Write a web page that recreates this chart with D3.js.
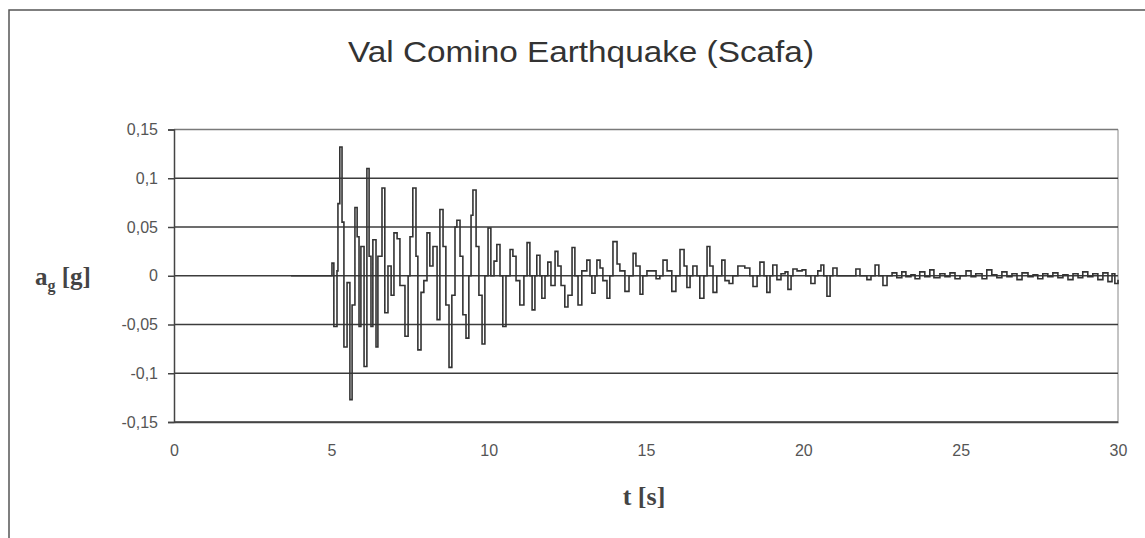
<!DOCTYPE html>
<html>
<head>
<meta charset="utf-8">
<script src="https://cdn.jsdelivr.net/npm/d3@7"></script>
<style>
  body { margin: 0; background: #fff; }
  .tick text { font-family: 'Liberation Sans', Arial, sans-serif; fill: #555; }
</style>
</head>
<body>
<div class="chart"></div>
<script>
var times = [3.72, 4.96, 5.02, 5.08, 5.18, 5.21, 5.27, 5.34, 5.40, 5.50, 5.59, 5.66, 5.75, 5.82, 5.88, 5.94,
  6.04, 6.13, 6.20, 6.26, 6.32, 6.42, 6.48, 6.61, 6.70, 6.80, 6.90, 6.99, 7.09, 7.18, 7.34, 7.44, 7.50,
  7.59, 7.69, 7.75, 7.85, 7.94, 8.04, 8.13, 8.23, 8.36, 8.45, 8.55, 8.64, 8.74, 8.83, 8.93, 8.99, 9.09,
  9.18, 9.28, 9.37, 9.44, 9.50, 9.60, 9.69, 9.79, 9.88, 9.98, 10.07, 10.17, 10.26, 10.36, 10.45, 10.55,
  10.68, 10.77, 10.87, 10.99, 11.12, 11.22, 11.31, 11.38, 11.47, 11.53, 11.63, 11.69, 11.79, 11.88, 11.98,
  12.11, 12.20, 12.30, 12.42, 12.52, 12.65, 12.74, 12.84, 12.96, 13.12, 13.22, 13.28, 13.38, 13.44, 13.54,
  13.63, 13.76, 13.85, 13.95, 14.08, 14.17, 14.33, 14.46, 14.59, 14.68, 14.81, 14.90, 15.03, 15.19, 15.32,
  15.44, 15.54, 15.67, 15.82, 15.95, 16.08, 16.21, 16.30, 16.40, 16.49, 16.62, 16.71, 16.84, 16.94, 17.03,
  17.13, 17.25, 17.41, 17.51, 17.64, 17.76, 17.92, 18.14, 18.30, 18.40, 18.53, 18.62, 18.75, 18.84, 18.94,
  19.03, 19.16, 19.29, 19.42, 19.51, 19.61, 19.67, 19.80, 19.96, 20.08, 20.24, 20.37, 20.46, 20.56, 20.65,
  20.75, 20.85, 20.94, 21.07, 21.32, 21.54, 21.67, 21.80, 22.02, 22.15, 22.28, 22.40, 22.53, 22.66, 22.82,
  22.97, 23.13, 23.26, 23.42, 23.55, 23.70, 23.86, 24.02, 24.15, 24.34, 24.50, 24.66, 24.82, 24.98, 25.17,
  25.33, 25.48, 25.68, 25.83, 25.99, 26.15, 26.31, 26.47, 26.63, 26.79, 26.95, 27.14, 27.30, 27.45, 27.61,
  27.77, 27.93, 28.09, 28.25, 28.41, 28.57, 28.73, 28.88, 29.04, 29.20, 29.36, 29.52, 29.68, 29.81, 29.90, 30.00];

var accel = [0, 0, 0.013, -0.052, 0.005, 0.074, 0.132, 0.055, -0.073, -0.007, -0.127, -0.03, 0.07, 0.04, -0.052, 0.03,
  -0.093, 0.11, 0.02, -0.052, 0.037, -0.073, 0.02, 0.09, -0.038, 0.01, -0.02, 0.044, 0.038, -0.01, -0.062, 0.0, 0.04,
  0.09, 0.02, -0.076, -0.017, -0.005, 0.044, 0.01, 0.03, -0.045, 0.068, 0.03, -0.03, -0.094, -0.02, 0.05, 0.057, 0.02,
  -0.04, -0.064, 0.0, 0.062, 0.088, 0.03, -0.02, -0.07, 0.0, 0.049, 0.0, 0.015, 0.032, 0.0, -0.052, 0.0,
  0.027, 0.02, -0.005, -0.03, 0.0, 0.034, 0.0, -0.035, 0.0, 0.021, 0.0, -0.023, 0.0, 0.014, -0.01,
  0.025, 0.01, -0.01, -0.032, -0.02, 0.029, 0.0, -0.03, 0.005, 0.016, 0.0, -0.018, 0.0, 0.016, 0.008,
  -0.005, -0.023, 0.0, 0.035, 0.012, 0.005, -0.016, 0.0, 0.023, 0.01, -0.019, 0.0, 0.005, 0.005, -0.003,
  0.0, 0.016, 0.005, -0.016, 0.0, 0.027, 0.01, -0.012, 0.0, 0.01, 0.0, -0.023, 0.0, 0.03, 0.01,
  -0.017, 0.0, 0.016, -0.005, -0.008, 0.0, 0.01, 0.008, 0.0, -0.011, 0.0, 0.014, 0.0, -0.017, 0.0,
  0.011, -0.004, 0.002, 0.004, -0.014, 0.0, 0.007, 0.005, 0.006, 0.0, -0.008, 0.0, 0.005, 0.011, 0.0,
  -0.021, 0.0, 0.008, 0.0, 0.0, 0.0, 0.007, 0.0, -0.004, 0.0, 0.011, 0.0, -0.01, 0.0, 0.003,
  -0.002, 0.004, -0.001, 0.001, -0.003, 0.004, -0.001, 0.006, -0.002, 0.002, -0.001, 0.003, -0.003, 0.0, 0.005,
  -0.001, 0.002, -0.003, 0.006, 0.001, -0.002, 0.004, -0.001, 0.002, -0.004, 0.003, -0.001, 0.001, -0.003, 0.002,
  -0.001, 0.003, -0.002, 0.001, -0.004, 0.002, -0.002, 0.004, -0.001, 0.002, -0.004, 0.003, -0.006, 0.002, -0.008, -0.004];

var xTicks = [0, 5, 10, 15, 20, 25, 30];
var yTicks = [-0.15, -0.1, -0.05, 0, 0.05, 0.1, 0.15];
var yTickLabels = ['-0,15', '-0,1', '-0,05', '0', '0,05', '0,1', '0,15'];

var data = times.map((t, i) => ({ t: t, a: accel[i] }));

var margin = { top: 129.5, right: 27, bottom: 116, left: 174 };
var W = 1145, H = 538;
var width = W - margin.left - margin.right;
var height = H - margin.top - margin.bottom;

var svg = d3.select('.chart')
  .append('svg')
    .attr('width', W)
    .attr('height', H);

// outer chart frame
svg.append('rect')
  .attr('x', 9).attr('y', 10)
  .attr('width', 1160).attr('height', 560)
  .style('fill', 'none')
  .style('stroke', '#555')
  .style('stroke-width', 1.5);

svg.append('text')
  .attr('x', 581).attr('y', 62)
  .attr('text-anchor', 'middle')
  .attr('textLength', 466)
  .attr('lengthAdjust', 'spacingAndGlyphs')
  .style('font-family', "'Liberation Sans', Arial, sans-serif")
  .style('font-size', '30px')
  .style('fill', '#333')
  .text('Val Comino Earthquake (Scafa)');

var g = svg.append('g')
  .attr('transform', 'translate(' + margin.left + ',' + margin.top + ')');

var xScale = d3.scaleLinear().domain([0, 30]).range([0, width]);
var yScale = d3.scaleLinear().domain([-0.15, 0.15]).range([height, 0]);

// right border of the plot area
g.append('line')
  .attr('x1', width).attr('x2', width)
  .attr('y1', 0).attr('y2', height)
  .style('stroke', '#888').style('stroke-width', 1);

// gridlines
g.append('g')
  .selectAll('line')
  .data(yTicks)
  .enter()
  .append('line')
    .attr('x1', 0).attr('x2', width)
    .attr('y1', d => yScale(d)).attr('y2', d => yScale(d))
    .style('stroke', d => d === 0.15 ? '#7a7a7a' : '#3c3c3c')
    .style('stroke-width', 1.6);

var yAxis = g.append('g')
  .call(d3.axisLeft(yScale)
    .tickValues(yTicks)
    .tickSize(6)
    .tickPadding(10)
    .tickFormat((d, i) => yTickLabels[i]));
yAxis.select('.domain').style('stroke', '#444').style('stroke-width', 1.5);
yAxis.selectAll('.tick line').style('stroke', '#444').style('stroke-width', 1.5);
yAxis.selectAll('text').style('font-size', '16px');

var xAxis = g.append('g')
  .attr('transform', `translate(0, ${height})`)
  .call(d3.axisBottom(xScale).tickValues(xTicks).tickSize(0).tickPadding(23));
xAxis.select('.domain').style('stroke', '#444').style('stroke-width', 1.5);
xAxis.selectAll('text').style('font-size', '16px');

var line = d3.line()
  .x(d => xScale(d.t))
  .y(d => yScale(d.a))
  .curve(d3.curveStepAfter);

g.append('path')
  .datum(data)
  .attr('class', 'line')
  .attr('d', line)
  .style('stroke', '#333')
  .style('stroke-width', 1.6)
  .style('fill', 'none');

// axis titles
var ylab = svg.append('text')
  .attr('x', 35).attr('y', 285)
  .style('font-family', "'Liberation Serif', 'Times New Roman', serif")
  .style('font-weight', 'bold')
  .style('font-size', '25px')
  .style('fill', '#444');
ylab.append('tspan').text('a');
ylab.append('tspan').attr('dy', 6).style('font-size', '16px').text('g');
ylab.append('tspan').attr('dy', -6).text(' [g]');

svg.append('text')
  .attr('x', 644).attr('y', 505)
  .attr('text-anchor', 'middle')
  .style('font-family', "'Liberation Serif', 'Times New Roman', serif")
  .style('font-weight', 'bold')
  .style('font-size', '26px')
  .style('fill', '#444')
  .text('t [s]');
</script>
</body>
</html>
